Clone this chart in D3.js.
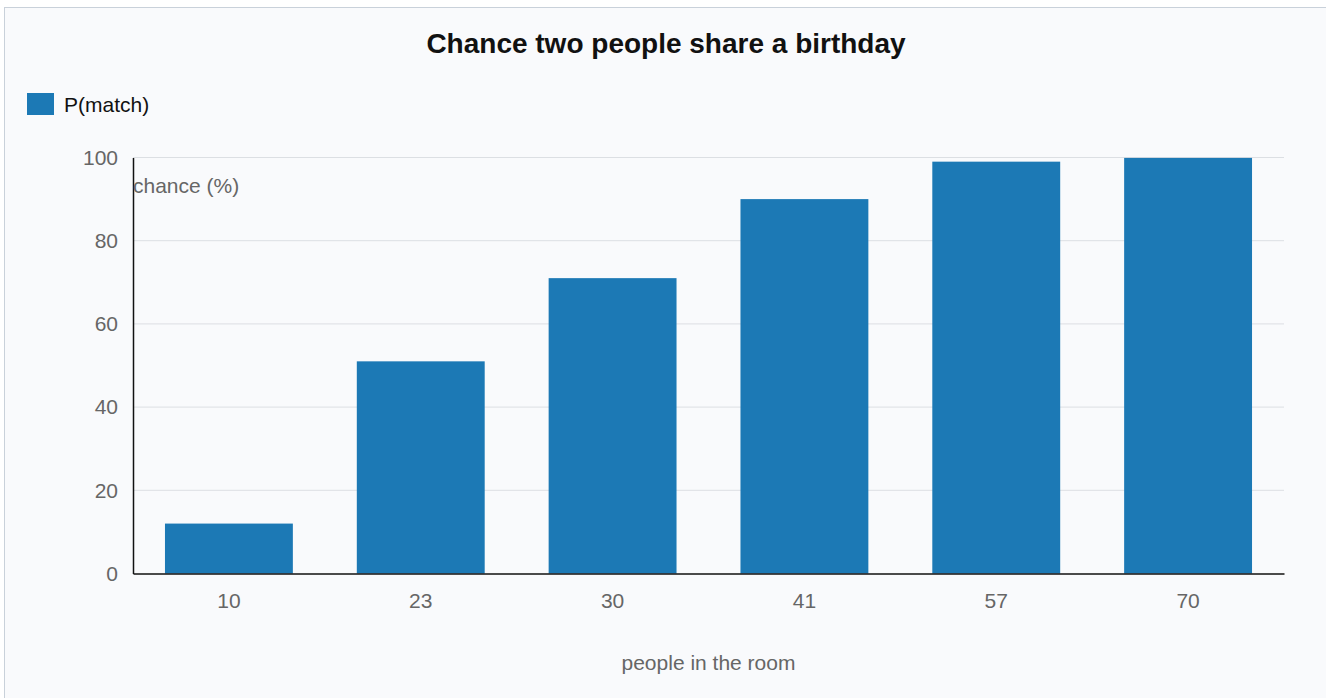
<!DOCTYPE html>
<html>
<head>
<meta charset="utf-8">
<script src="https://cdn.jsdelivr.net/npm/d3@7"></script>
<style>
  html, body { margin: 0; padding: 0; background: #ffffff; overflow: hidden; }
  #frame { position: absolute; left: 4px; top: 7px; width: 1340px; height: 720px;
           border: 1px solid #c9d1da; background: #f9fafc; }
  svg { position: absolute; left: 0; top: 0; }
  text { font-family: "Liberation Sans", Arial, sans-serif; }
</style>
</head>
<body>
<div id="frame"></div>
<svg id="chart" width="1326" height="698"></svg>
<script>
const categories = ["10", "23", "30", "41", "57", "70"];
const seriesName = "P(match)";
const values = [12, 51, 71, 90, 99, 99.9];
const yTicks = [0, 20, 40, 60, 80, 100];
const title = "Chance two people share a birthday";
const xLabel = "people in the room";
const yLabel = "chance (%)";

const svg = d3.select("#chart");
const plotLeft = 133, plotRight = 1284, plotTop = 157.5, plotBottom = 573.5;
const barColor = "#1c79b5";
const fontSize = 21;

const x = d3.scaleBand().domain(categories).range([plotLeft, plotRight])
  .paddingInner(1/3).paddingOuter(1/6);
const y = d3.scaleLinear().domain([0, 100]).range([plotBottom, plotTop]);

// gridlines
svg.append("g").selectAll("line").data(yTicks.filter(d => d > 0)).join("line")
  .attr("x1", plotLeft).attr("x2", plotRight)
  .attr("y1", d => y(d)).attr("y2", d => y(d))
  .attr("stroke", "#dcdfe3").attr("stroke-width", 1);

// bars
svg.append("g").selectAll("rect").data(values).join("rect")
  .attr("x", (d, i) => x(categories[i]))
  .attr("width", x.bandwidth())
  .attr("y", d => y(d))
  .attr("height", d => y(0) - y(d))
  .attr("fill", barColor);

// y axis
const yAxis = svg.append("g").attr("transform", `translate(${plotLeft},0)`)
  .call(d3.axisLeft(y).tickValues(yTicks).tickSize(0).tickPadding(15));
yAxis.select(".domain").attr("stroke", "#111").attr("stroke-width", 1.5);
yAxis.selectAll("text").attr("fill", "#666").attr("font-size", fontSize)
  .attr("font-family", "Liberation Sans, Arial, sans-serif");

// x axis
const xAxis = svg.append("g").attr("transform", `translate(0,${plotBottom})`)
  .call(d3.axisBottom(x).tickSize(0).tickPadding(20));
xAxis.select(".domain").attr("stroke", "#111").attr("stroke-width", 1.5);
xAxis.selectAll("text").attr("fill", "#666").attr("font-size", fontSize)
  .attr("font-family", "Liberation Sans, Arial, sans-serif");

// axis titles
svg.append("text").attr("x", plotLeft).attr("y", 193)
  .attr("fill", "#666").attr("font-size", fontSize).text(yLabel);
svg.append("text").attr("x", (plotLeft + plotRight) / 2).attr("y", 670)
  .attr("text-anchor", "middle").attr("fill", "#666").attr("font-size", fontSize).text(xLabel);

// title
svg.append("text").attr("x", 666).attr("y", 53).attr("text-anchor", "middle")
  .attr("font-weight", "bold").attr("font-size", 28).attr("fill", "#111").text(title);

// legend
svg.append("rect").attr("x", 27).attr("y", 93).attr("width", 27).attr("height", 22).attr("fill", barColor);
svg.append("text").attr("x", 64).attr("y", 112).attr("font-size", fontSize).attr("fill", "#111").text(seriesName);
</script>
</body>
</html>
